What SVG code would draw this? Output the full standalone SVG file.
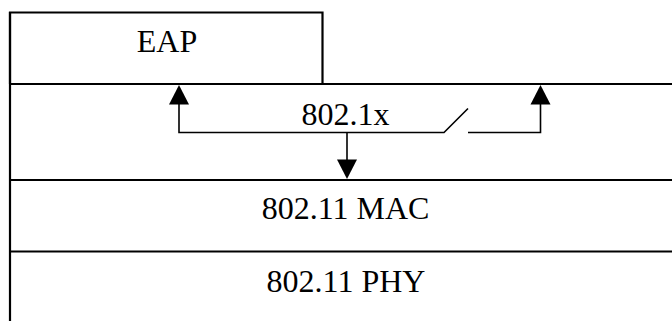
<svg xmlns="http://www.w3.org/2000/svg" width="672" height="321" viewBox="0 0 672 321">
<style>
.frame{fill:none;stroke:#000;stroke-width:2.2}
.conn{fill:none;stroke:#000;stroke-width:1.6}
.head{fill:#000;stroke:none}
text{font-family:"Liberation Serif","Times New Roman",serif;font-size:32px;fill:#000;text-anchor:middle}
</style>
<rect width="672" height="321" fill="#fff"/>
<g id="eap">
<path class="frame" d="M10,84 V12.5 H322.5 V84"/>
<text x="167" y="52">EAP</text>
</g>
<g id="dot1x">
<path class="frame" d="M10,84 H672"/>
<text x="345.5" y="125">802.1x</text>
</g>
<g id="mac">
<path class="frame" d="M10,180 H672"/>
<text x="345.5" y="219">802.11 MAC</text>
</g>
<g id="phy">
<path class="frame" d="M10,251.5 H672"/>
<text x="346" y="292">802.11 PHY</text>
</g>
<g id="frame-left">
<path class="frame" d="M10,12 V321"/>
</g>
<g id="connectors">
<path class="conn" d="M179,104 V132.5 H444 L468,108.5"/>
<path class="conn" d="M468,132.5 H540.5 V104"/>
<path class="conn" d="M347,132.5 V160"/>
<polygon class="head" points="179,85 169,104.5 189,104.5"/>
<polygon class="head" points="540.5,85 530.5,104.5 550.5,104.5"/>
<polygon class="head" points="347,179 337,159.5 357,159.5"/>
</g>
</svg>
